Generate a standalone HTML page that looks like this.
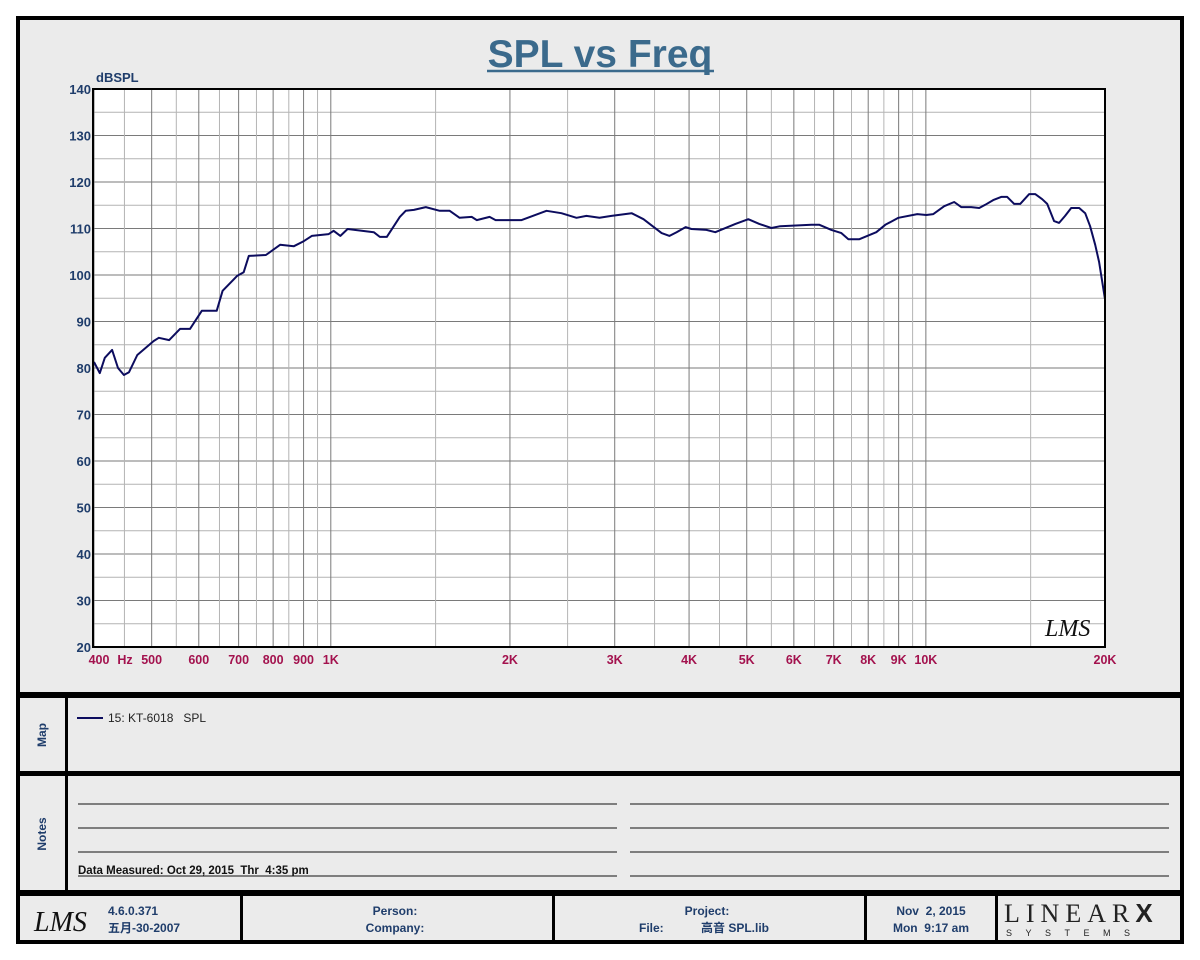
<!DOCTYPE html>
<html><head><meta charset="utf-8"><style>
body{margin:0;background:#fff;}
svg{display:block;font-family:"Liberation Sans","Noto Sans CJK SC",sans-serif;}
</style></head><body>
<svg id="s" width="1200" height="960" viewBox="0 0 1200 960">
<rect x="0" y="0" width="1200" height="960" fill="#fff"/>
<rect x="18" y="18" width="1164" height="924" fill="#ebebeb" stroke="#000" stroke-width="4"/>
<text x="600" y="67" text-anchor="middle" font-size="39" font-weight="bold" fill="#3b6a8c">SPL vs Freq</text>
<line x1="487" y1="71" x2="714" y2="71" stroke="#3b6a8c" stroke-width="2.5"/>
<text x="96" y="82" font-size="13" font-weight="bold" fill="#1f3d6b">dBSPL</text>
<rect x="93" y="89" width="1012" height="558" fill="#fff"/>
<g id="grid"></g>
<g id="yt"></g>
<g id="xt"></g>
<path id="curve" fill="none" stroke="#0c0c5e" stroke-width="2" stroke-linejoin="round"/>
<rect x="93" y="89" width="1012" height="558" fill="none" stroke="#000" stroke-width="2"/>
<text x="1045" y="636" font-size="24" font-style="italic" fill="#111" font-family="Liberation Serif,serif">LMS</text>
<rect x="18" y="692" width="1164" height="6" fill="#000"/>
<rect x="18" y="771" width="1164" height="5" fill="#000"/>
<rect x="18" y="890" width="1164" height="6" fill="#000"/>
<rect x="65" y="697" width="3" height="194" fill="#000"/>
<text transform="translate(46,735) rotate(-90)" text-anchor="middle" font-size="12" font-weight="bold" fill="#1f3d6b">Map</text>
<text transform="translate(46,834) rotate(-90)" text-anchor="middle" font-size="12" font-weight="bold" fill="#1f3d6b">Notes</text>
<g>
<line x1="77" y1="718" x2="103" y2="718" stroke="#0c0c5e" stroke-width="2"/>
<text x="108" y="722" font-size="12" fill="#222">15: KT-6018&#160;&#160;&#160;SPL</text>
</g>
<g stroke="#111" stroke-width="1">
<line x1="78" y1="804" x2="617" y2="804"/><line x1="630" y1="804" x2="1169" y2="804"/>
<line x1="78" y1="828" x2="617" y2="828"/><line x1="630" y1="828" x2="1169" y2="828"/>
<line x1="78" y1="852" x2="617" y2="852"/><line x1="630" y1="852" x2="1169" y2="852"/>
<line x1="78" y1="876" x2="617" y2="876"/><line x1="630" y1="876" x2="1169" y2="876"/>
</g>
<text x="78" y="874" font-size="11.5" font-weight="bold" fill="#111">Data Measured: Oct 29, 2015&#160;&#160;Thr&#160;&#160;4:35 pm</text>
<g>
<rect x="240" y="896" width="3" height="44" fill="#000"/>
<rect x="552" y="896" width="3" height="44" fill="#000"/>
<rect x="864" y="896" width="3" height="44" fill="#000"/>
<rect x="995" y="896" width="3" height="44" fill="#000"/>
<text x="34" y="931" font-size="28" font-style="italic" fill="#111" font-family="Liberation Serif,serif">LMS</text>
<text x="108" y="915" font-size="12" font-weight="bold" fill="#1f3d6b">4.6.0.371</text>
<text x="108" y="932" font-size="12" font-weight="bold" fill="#1f3d6b">五月-30-2007</text>
<text x="395" y="915" text-anchor="middle" font-size="12" font-weight="bold" fill="#1f3d6b">Person:</text>
<text x="395" y="932" text-anchor="middle" font-size="12" font-weight="bold" fill="#1f3d6b">Company:</text>
<text x="707" y="915" text-anchor="middle" font-size="12" font-weight="bold" fill="#1f3d6b">Project:</text>
<text x="639" y="932" font-size="12" font-weight="bold" fill="#1f3d6b">File:</text>
<text x="701" y="932" font-size="12" font-weight="bold" fill="#1f3d6b">高音 SPL.lib</text>
<text x="931" y="915" text-anchor="middle" font-size="12" font-weight="bold" fill="#1f3d6b">Nov&#160;&#160;2, 2015</text>
<text x="931" y="932" text-anchor="middle" font-size="12" font-weight="bold" fill="#1f3d6b">Mon&#160;&#160;9:17 am</text>
<text x="1004" y="922" font-size="26" letter-spacing="6" fill="#222" font-family="Liberation Serif,serif">LINEAR<tspan font-weight="bold" font-family="Liberation Sans,sans-serif">X</tspan></text>
<text x="1006" y="936" font-size="9" letter-spacing="13.5" fill="#222">SYSTEMS</text>
</g>
</svg>
<script>
const freqs=[400,409,417,429,439,449,458,473,504,514,535,558,580,607,643,658,696,714,728,778,822,867,901,929,992,1011,1038,1067,1127,1181,1209,1242,1306,1336,1379,1444,1524,1584,1646,1725,1759,1849,1892,2092,2304,2441,2588,2689,2828,2963,3202,3353,3596,3709,3811,3946,4037,4277,4428,4785,5031,5250,5499,5694,6422,6624,6939,7213,7410,7733,8256,8548,8990,9673,10015,10290,10737,11160,11467,11919,12294,12583,12977,13384,13698,14074,14404,14914,15265,15685,15990,16427,16748,17142,17545,18097,18522,18883,19254,19552,20000];
const spl=[81.3,78.9,82.2,83.9,80.0,78.5,79.1,82.8,85.8,86.5,86.0,88.4,88.4,92.3,92.3,96.6,99.8,100.6,104.1,104.3,106.5,106.2,107.3,108.4,108.8,109.5,108.4,109.9,109.5,109.2,108.2,108.2,112.5,113.8,114.0,114.6,113.8,113.8,112.3,112.5,111.8,112.5,111.8,111.8,113.8,113.3,112.3,112.7,112.3,112.7,113.3,112.0,109.0,108.4,109.2,110.3,109.9,109.7,109.2,111.0,112.0,111.0,110.1,110.5,110.8,110.8,109.7,109.0,107.7,107.7,109.2,110.8,112.3,113.1,112.9,113.1,114.8,115.7,114.6,114.6,114.4,115.1,116.1,116.8,116.8,115.3,115.3,117.4,117.4,116.3,115.3,111.6,111.2,112.7,114.4,114.4,113.3,110.5,106.5,102.8,94.8];
const yTicks=[20,30,40,50,60,70,80,90,100,110,120,130,140];
const xTickVals=[400,500,600,700,800,900,1000,2000,3000,4000,5000,6000,7000,8000,9000,10000,20000];
const xTickLabels=["400","500","600","700","800","900","1K","2K","3K","4K","5K","6K","7K","8K","9K","10K","20K"];
const xMinorVals=[450,550,650,750,850,950,1500,2500,3500,4500,5500,6500,7500,8500,9500,15000];
const X0=94,X1=1105,Y0=647,Y1=89,FMIN=400,FMAX=20000,DMIN=20,DMAX=140;
const xs=f=>X0+(X1-X0)*Math.log10(f/FMIN)/Math.log10(FMAX/FMIN);
const ys=d=>Y0-(Y0-Y1)*(d-DMIN)/(DMAX-DMIN);
const NS="http://www.w3.org/2000/svg";
function mk(t,a,p){const e=document.createElementNS(NS,t);for(const k in a)e.setAttribute(k,a[k]);p.appendChild(e);return e;}
const grid=document.getElementById('grid'),yt=document.getElementById('yt'),xt=document.getElementById('xt');
for(let d=25;d<140;d+=10){const l=mk('line',{x1:93,x2:1105,y1:ys(d),y2:ys(d),stroke:'#b4b4b4','stroke-width':1},grid);

}
yTicks.forEach(d=>{const l=mk('line',{x1:93,x2:1105,y1:ys(d),y2:ys(d),stroke:'#7a7a7a','stroke-width':1},grid);


const t=mk('text',{x:91,y:ys(d)+5,'text-anchor':'end','font-size':13,'font-weight':'bold',fill:'#1f3d6b'},yt);t.textContent=d;

});
xMinorVals.forEach(f=>{const l=mk('line',{x1:xs(f),x2:xs(f),y1:Y1,y2:Y0,stroke:'#b4b4b4','stroke-width':1},grid);

});
xTickVals.forEach((f,i)=>{const l=mk('line',{x1:xs(f),x2:xs(f),y1:Y1,y2:Y0,stroke:'#7a7a7a','stroke-width':1},grid);


const t=mk('text',{x:xs(f)+(i==0?5:0),y:664,'text-anchor':'middle','font-size':12.5,'font-weight':'bold',fill:'#a3124e'},xt);t.textContent=xTickLabels[i];

});
const hz=mk('text',{x:125,y:664,'text-anchor':'middle','font-size':12.5,'font-weight':'bold',fill:'#a3124e'},xt);hz.textContent='Hz';


document.getElementById('curve').setAttribute('d',freqs.map((f,i)=>(i?'L':'M')+xs(f).toFixed(1)+','+ys(spl[i]).toFixed(1)).join(''));
</script>
</body></html>
